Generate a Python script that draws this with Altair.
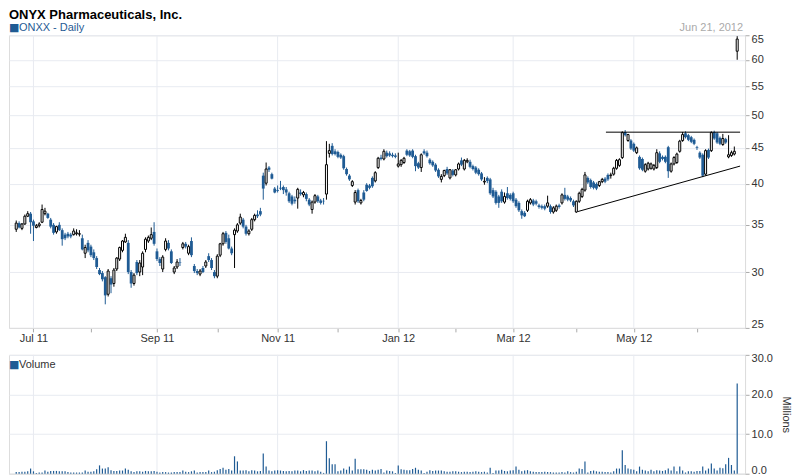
import altair as alt
import pandas as pd

# ---- daily OHLC (trading-day index 0 = Jun 23 2011 ... 251 = Jun 21 2012) ----
open_ = [
    34.5, 35.2, 34.6, 35.1, 36.0, 36.3, 35.4, 34.7, 34.9, 35.3,
    36.3, 36.3, 35.6, 35.0, 34.2, 35.0, 34.4, 33.9, 34.0, 33.9,
    33.9, 34.0, 33.95, 33.5, 31.9, 33.0, 32.6, 32.0, 31.4, 30.2,
    29.9, 29.5, 27.9, 29.4, 28.9, 30.3, 31.3, 32.2, 33.1, 33.0,
    30.0, 28.9, 31.0, 30.0, 30.5, 32.3, 33.2, 33.5, 34.2, 32.1,
    31.3, 30.3, 32.3, 33.0, 32.1, 30.0, 30.5, 30.95, 32.5, 32.9,
    31.9, 33.2, 30.6, 30.1, 29.8, 30.4, 30.6, 31.6, 31.2, 30.0,
    29.6, 31.7, 32.9, 34.1, 33.5, 32.4, 33.9, 34.3, 35.2, 35.6,
    34.8, 34.0, 34.5, 35.6, 36.2, 36.6, 41.1, 40.1, 42.2, 41.3,
    39.4, 39.2, 39.5, 39.6, 39.3, 38.8, 38.4, 38.0, 38.2, 38.9,
    38.6, 38.7, 38.0, 36.8, 37.7, 38.4, 37.9, 37.85, 38.7, 44.2,
    45.3, 44.5, 44.4, 44.0, 43.8, 42.0, 41.1, 39.8, 37.7, 39.2,
    37.6, 38.9, 39.9, 39.8, 40.8, 40.4, 42.2, 43.6, 43.4, 44.3,
    44.2, 44.0, 43.9, 42.4, 42.6, 42.9, 44.6, 44.5, 44.6, 43.8,
    42.8, 42.2, 44.5, 44.3, 43.3, 43.0, 42.6, 41.9, 40.6, 41.1,
    42.0, 40.8, 41.8, 41.2, 42.0, 43.2, 42.0, 43.0, 43.0, 42.4,
    42.2, 41.9, 41.4, 40.25, 40.8, 40.6, 39.2, 39.0, 38.4, 39.0,
    37.7, 38.8, 38.6, 38.8, 38.0, 37.6, 36.6, 36.4, 36.7, 37.6,
    37.9, 37.8, 37.3, 37.2, 37.2, 37.2, 37.2, 36.5, 36.7, 37.3,
    37.6, 38.6, 38.4, 38.2, 37.8, 36.5, 37.8, 38.4, 39.2, 40.8,
    40.5, 40.2, 40.0, 39.8, 40.3, 40.7, 41.2, 41.1, 41.3, 42.1,
    42.5, 43.6, 47.4, 46.1, 46.1, 45.6, 44.3, 43.7, 43.4, 41.7,
    42.0, 42.1, 42.0, 42.2, 44.2, 43.7, 43.7, 45.1, 41.7, 42.7,
    42.9, 44.5, 46.1, 47.2, 46.9, 46.6, 46.2, 45.1, 44.3, 44.0,
    41.3, 44.7, 44.6, 47.4, 47.2, 46.5, 45.5, 46.3, 43.7, 43.9,
    44.1, 61.7,
]
high = [
    35.5, 35.4, 35.2, 36.2, 36.6, 36.5, 35.6, 35.1, 35.3, 37.4,
    37.0, 36.4, 35.8, 35.2, 34.9, 35.3, 34.6, 34.1, 34.2, 34.1,
    34.6, 34.5, 34.4, 33.9, 32.8, 33.3, 32.8, 32.3, 31.6, 30.4,
    30.1, 29.6, 30.3, 29.6, 30.4, 31.5, 32.6, 33.3, 34.0, 33.3,
    30.2, 29.9, 31.2, 31.2, 32.1, 33.6, 33.8, 34.7, 35.3, 32.4,
    31.5, 31.7, 33.5, 33.3, 32.3, 30.6, 31.3, 31.4, 33.1, 33.1,
    32.8, 33.6, 30.8, 30.3, 30.3, 30.6, 31.2, 31.9, 31.4, 30.2,
    31.8, 33.0, 34.2, 34.3, 33.9, 32.6, 34.6, 35.2, 36.3, 35.8,
    35.0, 34.5, 35.8, 36.3, 36.7, 37.0, 41.5, 42.9, 42.4, 41.5,
    39.6, 39.8, 40.4, 39.8, 39.6, 39.0, 38.6, 38.4, 39.5, 39.3,
    39.1, 38.9, 38.2, 37.9, 38.7, 38.6, 38.1, 38.2, 46.0, 45.6,
    45.7, 44.8, 44.6, 44.2, 44.0, 42.2, 41.3, 40.5, 39.2, 39.4,
    38.1, 39.2, 40.1, 40.0, 41.0, 41.7, 43.7, 44.0, 44.8, 44.6,
    44.5, 44.3, 44.2, 44.3, 43.4, 43.7, 44.8, 44.7, 44.8, 44.0,
    43.0, 44.2, 44.8, 44.6, 43.5, 43.2, 42.8, 42.1, 41.3, 41.9,
    42.3, 42.0, 42.0, 42.0, 42.9, 43.6, 43.4, 43.5, 43.3, 42.6,
    42.4, 42.1, 41.6, 40.9, 41.0, 40.8, 39.5, 39.2, 38.6, 39.3,
    38.9, 39.6, 38.8, 39.0, 38.2, 37.8, 36.8, 36.6, 38.0, 38.2,
    38.1, 38.0, 37.5, 37.4, 37.4, 38.5, 37.4, 37.2, 37.4, 37.5,
    38.8, 39.5, 38.6, 38.4, 38.0, 37.9, 39.0, 39.5, 41.6, 41.0,
    40.7, 40.4, 40.2, 40.4, 40.8, 40.9, 41.4, 41.5, 42.3, 43.4,
    43.5, 47.5, 47.7, 47.1, 46.3, 45.8, 45.2, 43.9, 43.6, 42.8,
    43.0, 42.9, 42.7, 44.8, 44.5, 43.9, 43.9, 45.3, 42.9, 43.8,
    44.3, 46.2, 47.4, 47.5, 47.1, 46.8, 46.4, 45.3, 44.5, 44.2,
    44.8, 44.9, 47.5, 47.6, 47.4, 46.7, 47.1, 46.5, 46.9, 44.6,
    45.2, 64.8,
]
low = [
    34.2, 34.6, 34.4, 35.0, 35.9, 34.0, 33.2, 34.6, 34.7, 35.2,
    36.1, 35.7, 34.6, 33.9, 34.0, 34.3, 32.7, 33.3, 33.5, 33.5,
    33.8, 33.8, 33.7, 32.2, 31.4, 32.0, 31.5, 31.2, 30.3, 29.7,
    29.1, 27.0, 27.7, 28.0, 28.6, 30.1, 31.1, 32.0, 33.0, 29.8,
    28.5, 28.7, 29.7, 29.6, 29.7, 32.0, 33.0, 33.3, 32.7, 31.1,
    30.6, 30.0, 32.1, 32.2, 30.8, 29.8, 30.3, 30.6, 32.3, 32.4,
    31.7, 31.5, 29.9, 29.7, 29.6, 29.9, 30.4, 31.0, 30.2, 29.4,
    29.4, 31.5, 32.7, 32.9, 32.3, 31.7, 30.4, 34.1, 35.0, 34.6,
    33.8, 33.8, 34.3, 35.4, 35.8, 36.0, 38.0, 39.8, 41.6, 40.6,
    38.8, 38.9, 39.2, 38.7, 38.5, 37.6, 37.3, 37.5, 36.9, 38.5,
    38.3, 37.8, 37.2, 36.3, 37.5, 37.6, 37.4, 37.4, 38.0, 43.6,
    43.9, 43.9, 43.5, 43.4, 41.9, 41.1, 40.4, 39.6, 37.4, 37.6,
    37.4, 37.8, 39.0, 39.3, 39.5, 40.2, 42.0, 43.2, 43.2, 43.6,
    43.7, 43.6, 43.5, 42.2, 42.3, 42.7, 43.8, 43.7, 43.5, 41.7,
    42.0, 41.6, 44.0, 43.6, 42.6, 42.3, 41.6, 40.8, 40.2, 40.9,
    41.2, 40.6, 41.0, 41.0, 41.8, 42.4, 41.8, 42.8, 42.1, 41.8,
    41.3, 41.1, 40.4, 39.9, 40.1, 38.6, 38.2, 37.4, 37.0, 37.6,
    37.5, 38.0, 37.9, 37.6, 37.0, 36.5, 35.7, 35.9, 36.5, 37.4,
    37.2, 37.3, 36.9, 36.8, 36.7, 37.0, 36.3, 36.3, 36.5, 36.9,
    37.4, 37.9, 37.8, 37.7, 37.1, 36.4, 37.6, 38.2, 39.0, 40.0,
    39.4, 39.3, 39.2, 39.6, 40.1, 40.1, 40.4, 40.7, 41.1, 41.9,
    42.3, 43.4, 46.7, 45.9, 44.7, 44.4, 44.1, 41.9, 41.7, 41.5,
    41.8, 41.9, 41.8, 42.0, 42.8, 43.2, 42.8, 40.8, 41.5, 42.5,
    42.7, 44.3, 45.9, 46.4, 46.0, 45.7, 45.4, 44.7, 43.4, 40.9,
    41.1, 43.4, 44.4, 46.2, 45.6, 45.4, 45.3, 45.6, 43.5, 43.7,
    43.9, 60.0,
]
close = [
    35.2, 34.7, 35.1, 36.0, 36.3, 35.3, 34.9, 34.9, 35.1, 36.8,
    36.6, 35.8, 34.8, 34.1, 34.8, 34.4, 33.4, 33.5, 33.7, 33.7,
    34.3, 34.1, 34.0, 32.3, 32.5, 32.2, 31.7, 31.4, 30.5, 29.8,
    29.3, 27.8, 30.1, 28.8, 30.2, 31.4, 32.5, 33.2, 33.6, 30.0,
    28.9, 29.7, 29.9, 30.9, 31.9, 33.4, 33.6, 33.9, 32.9, 31.3,
    30.9, 31.5, 33.2, 32.4, 30.9, 30.4, 31.0, 30.9, 32.9, 32.6,
    32.6, 31.7, 30.1, 29.9, 30.1, 30.0, 31.0, 31.2, 30.4, 29.6,
    31.6, 32.9, 34.0, 33.1, 32.4, 31.9, 34.4, 35.0, 35.9, 34.8,
    34.0, 34.3, 35.6, 36.1, 36.0, 36.2, 39.4, 42.0, 41.9, 40.7,
    38.9, 39.1, 39.4, 39.2, 38.9, 37.8, 37.5, 37.8, 39.3, 38.7,
    38.9, 38.1, 37.4, 37.7, 38.5, 37.8, 37.6, 37.8, 42.6, 44.6,
    44.1, 44.1, 43.7, 43.6, 42.1, 41.3, 40.6, 40.3, 38.9, 37.8,
    37.9, 38.0, 39.1, 39.5, 39.7, 41.5, 43.5, 43.4, 44.5, 43.8,
    43.9, 43.8, 43.7, 42.7, 43.2, 43.5, 44.0, 43.9, 43.7, 42.4,
    42.2, 44.0, 44.2, 43.8, 42.8, 42.5, 41.8, 41.0, 41.0, 41.8,
    41.4, 41.9, 41.2, 41.9, 42.7, 42.6, 43.2, 43.2, 42.3, 42.0,
    41.5, 41.3, 40.6, 40.35, 40.4, 38.8, 38.4, 37.6, 37.6, 37.8,
    38.4, 38.2, 38.1, 37.8, 37.2, 36.7, 36.1, 36.0, 37.8, 38.0,
    37.4, 37.5, 37.1, 37.0, 36.9, 37.6, 36.5, 37.0, 37.2, 37.1,
    38.6, 38.1, 38.0, 37.9, 37.3, 37.8, 38.8, 39.3, 41.2, 40.2,
    39.6, 39.5, 39.4, 40.3, 40.6, 40.3, 40.6, 41.2, 42.1, 43.2,
    43.3, 47.3, 46.9, 47.0, 44.9, 44.6, 45.0, 42.1, 41.9, 42.6,
    42.8, 42.7, 42.5, 44.3, 43.0, 43.4, 43.0, 41.7, 42.7, 43.6,
    44.1, 46.0, 47.0, 46.6, 46.2, 45.9, 45.6, 45.0, 43.6, 41.1,
    44.6, 43.6, 47.3, 46.4, 45.8, 45.6, 46.4, 45.8, 44.0, 44.3,
    44.5, 64.2,
]
# volume, millions of shares
volume = [
    0.4, 0.4, 0.5, 0.5, 0.6, 1.3, 0.6, 0.2, 0.3, 0.3,
    0.8, 0.5, 0.7, 0.7, 0.7, 0.6, 0.6, 0.6, 0.4, 0.3,
    0.3, 0.3, 0.3, 0.3, 0.8, 0.5, 0.5, 0.6, 1.1, 2.1,
    1.3, 1.3, 1.6, 0.9, 0.7, 0.7, 0.8, 0.8, 1.3, 1.0,
    0.6, 0.4, 0.6, 0.6, 0.5, 0.7, 0.6, 0.6, 0.7, 0.5,
    0.3, 0.4, 0.4, 0.3, 0.3, 0.4, 0.4, 0.4, 0.8, 0.5,
    0.4, 0.6, 0.8, 0.3, 0.4, 0.4, 0.4, 0.8, 0.4, 0.5,
    0.9, 1.2, 1.5, 1.0, 1.2, 0.8, 4.4, 3.1, 0.8, 0.8,
    0.9, 0.6, 0.9, 0.8, 0.6, 0.7, 5.1, 1.8, 0.8, 0.6,
    0.8, 0.9, 0.8, 0.7, 0.6, 0.7, 0.6, 0.8, 0.8, 0.6,
    0.9, 0.7, 0.8, 0.8, 0.6, 0.8, 0.5, 0.2, 8.2, 3.9,
    2.4, 2.4, 0.6, 0.8, 1.3, 1.0, 1.8, 0.8, 3.8, 1.1,
    1.1, 1.1, 1.0, 0.7, 1.0, 0.8, 1.0, 1.2, 0.3, 0.8,
    0.7, 0.6, 0.2, 2.1, 1.1, 1.0, 0.9, 0.9, 1.2, 1.5,
    1.0, 0.8, 0.2, 0.5, 0.9, 0.7, 0.8, 0.8, 0.8, 0.6,
    0.5, 0.5, 0.6, 0.6, 0.5, 0.4, 0.5, 0.5, 0.4, 0.5,
    0.6, 0.5, 0.4, 0.5, 0.3, 1.5, 0.2, 0.8, 0.8, 1.0,
    0.7, 0.6, 0.8, 0.9, 1.8, 1.0, 0.6, 0.8, 0.9, 0.6,
    0.5, 0.4, 0.4, 0.4, 0.5, 0.4, 0.4, 0.3, 0.3, 0.3,
    0.4, 0.3, 0.6, 0.4, 0.3, 0.5, 1.3, 1.2, 3.1, 0.3,
    0.7, 0.8, 0.6, 0.5, 0.5, 0.4, 0.4, 0.3, 0.6, 1.3,
    1.3, 5.9, 2.2, 1.3, 1.1, 1.0, 0.6, 1.8, 1.0, 0.8,
    0.6, 1.0, 0.6, 0.9, 0.8, 0.7, 0.9, 1.3, 0.8, 1.8,
    0.6, 1.8, 0.8, 0.3, 0.6, 0.6, 0.5, 0.7, 0.7, 1.8,
    0.8, 1.3, 2.6, 1.3, 0.8, 1.5, 1.4, 2.4, 4.0, 2.2,
    0.8, 22.8,
]

# ---- axis / annotation values ----
month_start_idx = [6, 26, 49, 70, 91, 112, 133, 153, 173, 195, 215, 237]
label_idx = [6, 49, 91, 133, 173, 215]
label_text = ["Jul 11", "Sep 11", "Nov 11", "Jan 12", "Mar 12", "May 12"]
price_ticks = [25, 30, 35, 40, 45, 50, 55, 60, 65]
vol_ticks = [0, 10, 20, 30]
# triangle trend lines (index, price)
tri_x = [195.5, 205.3]
tri_x2 = [252.0, 252.0]
tri_y = [36.55, 47.37]
tri_y2 = [42.4, 47.37]

title_text = "ONYX Pharmaceuticals, Inc."
series_text = "ONXX - Daily"
date_text = "Jun 21, 2012"
vol_text = "Volume"

BLUE = "#1f5b94"
GRID = "#e8ebf1"
FONT = "Liberation Sans"
W = 737

df = pd.DataFrame({"open": open_, "high": high, "low": low,
                   "close": close, "volume": volume})
df["idx"] = range(len(df))
df["up"] = df["close"] >= df["open"]

grid_df = pd.DataFrame({"g": label_idx})
tri_df = pd.DataFrame({"tx": tri_x, "tx2": tri_x2, "ty": tri_y, "ty2": tri_y2})

label_expr = " : ".join(
    f"datum.value == {i} ? '{t}'" for i, t in zip(label_idx, label_text)
) + " : ''"

xscale = alt.Scale(domain=[-0.78, 252], nice=False, zero=False)
xaxis_price = alt.Axis(values=month_start_idx, labelExpr=label_expr, title=None,
                       grid=False, tickSize=4, labelPadding=1, labelFontSize=11,
                       labelColor="#333333", tickColor="#aaaaaa", domainColor="#dddddd",
                       labelFont=FONT)
xaxis_vol = alt.Axis(values=month_start_idx, labels=False, title=None, grid=False,
                     tickSize=4, tickColor="#aaaaaa", domainColor="#dddddd")

pscale = alt.Scale(type="log", domain=[25, 65], nice=False, zero=False)
paxis = alt.Axis(orient="right", values=price_ticks, title=None, grid=True,
                 gridColor=GRID, tickSize=4, labelPadding=2, labelFlush=True,
                 labelFlushOffset=2, labelFontSize=11, labelColor="#333333",
                 tickColor="#aaaaaa", domainColor="#dddddd", labelFont=FONT)

def px(field):
    return alt.X(field, scale=xscale, axis=xaxis_price)

def py(field):
    return alt.Y(field, scale=pscale, axis=paxis)

base = alt.Chart(df)

vgrid = alt.Chart(grid_df).mark_rule(color=GRID, strokeWidth=1).encode(x=px("g:Q"))

wicks = base.mark_rule(strokeWidth=1).encode(
    x=px("idx:Q"), y=py("low:Q"), y2="high:Q",
    color=alt.condition("datum.up", alt.value("black"), alt.value(BLUE)),
)
down_bodies = base.transform_filter("!datum.up").mark_bar(color=BLUE, size=2.8).encode(
    x=px("idx:Q"), y=py("open:Q"), y2="close:Q")
up_bodies = base.transform_filter("datum.up").mark_bar(
    fill="white", stroke="black", strokeWidth=1, size=2.0).encode(
    x=px("idx:Q"), y=py("open:Q"), y2="close:Q")

tri = alt.Chart(tri_df).mark_rule(color="black", strokeWidth=1).encode(
    x=px("tx:Q"), x2="tx2:Q", y=py("ty:Q"), y2="ty2:Q")

def label(text, x, y, size=11, color="#333333", weight="normal", align="left", font=FONT):
    return alt.Chart(pd.DataFrame({"t": [text]})).mark_text(
        align=align, baseline="alphabetic", fontSize=size, font=font,
        fontWeight=weight, color=color).encode(
        text="t:N", x=alt.value(x), y=alt.value(y))

t_title = label(title_text, 0, -16, size=13, color="black", weight="bold")
t_sq = label("■", 0, -4, size=11, color=BLUE, font="DejaVu Sans")
t_series = label(series_text, 10, -4, size=11, color=BLUE)
t_date = label(date_text, W - 2, -4, size=11, color="#aaaaaa", align="right")

price = alt.layer(vgrid, wicks, down_bodies, up_bodies, tri,
                  t_title, t_sq, t_series, t_date).properties(width=W, height=293)

# ---- volume panel ----
vscale = alt.Scale(domain=[0, 30], nice=False)
vaxis = alt.Axis(orient="right", values=vol_ticks, format=".1f", title="Millions",
                 titleFontSize=11, titleFontWeight="normal", titleColor="#333333",
                 titleFont=FONT, titlePadding=8, grid=True, gridColor=GRID,
                 tickSize=4, labelPadding=2, labelFlush=True, labelFlushOffset=2,
                 labelFontSize=11, labelColor="#333333", tickColor="#aaaaaa",
                 domainColor="#dddddd", labelFont=FONT)

vgrid2 = alt.Chart(grid_df).mark_rule(color=GRID, strokeWidth=1).encode(
    x=alt.X("g:Q", scale=xscale, axis=xaxis_vol))
bars = base.mark_bar(color=BLUE, size=1.2).encode(
    x=alt.X("idx:Q", scale=xscale, axis=xaxis_vol),
    y=alt.Y("volume:Q", scale=vscale, axis=vaxis))
v_sq = label("■", 0, 13, size=11, color=BLUE, font="DejaVu Sans")
v_txt = label(vol_text, 10, 13, size=11, color="#333333")

vol = alt.layer(vgrid2, bars, v_sq, v_txt).properties(width=W, height=119)

chart = alt.vconcat(price, vol, spacing=7).properties(
    padding={"left": 0, "top": 0, "right": 0, "bottom": 0}
).configure_view(stroke="#dddddd").configure(background="white")

chart.save("out.html", embed_options={"renderer": "svg", "actions": False})
